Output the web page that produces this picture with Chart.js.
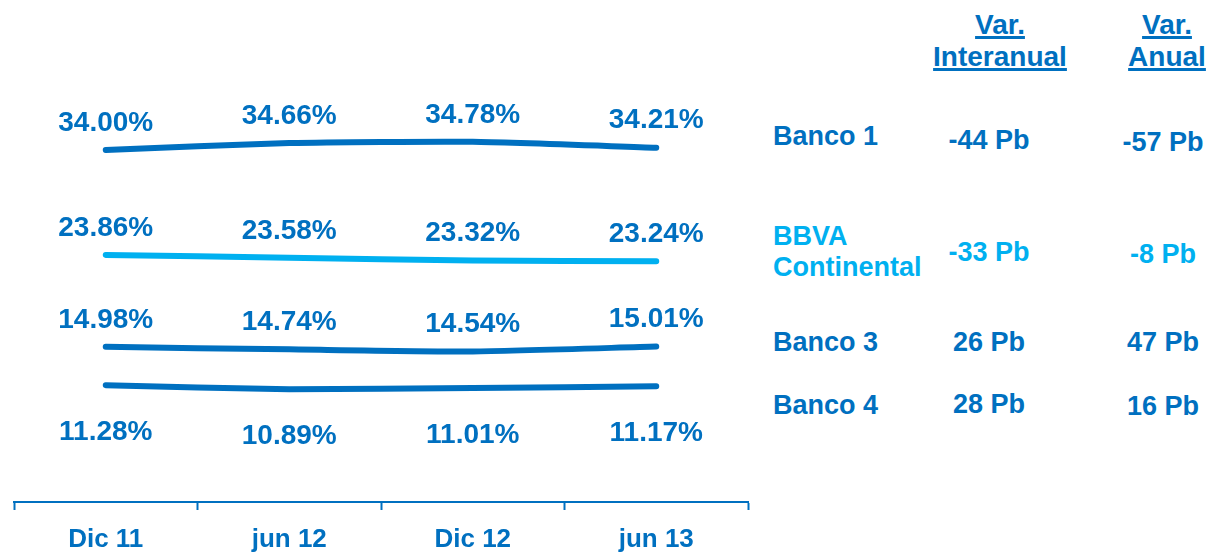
<!DOCTYPE html>
<html>
<head>
<meta charset="utf-8">
<script src="https://cdn.jsdelivr.net/npm/chart.js@4/dist/chart.umd.min.js"></script>
<style>
  body { margin: 0; background: #fff; font-family: "Liberation Sans", Arial, sans-serif; }
  #wrap { position: relative; width: 1209px; height: 552px; overflow: hidden; }
  #chartBox { position: absolute; left: 0; top: 0; width: 760px; height: 552px; }
  .t { position: absolute; font-weight: bold; white-space: nowrap; transform: translate(-50%, -50%); color: #0070C0; }
  .name { position: absolute; font-weight: bold; font-size: 27px; line-height: 31px; transform: translateY(-50%); color: #0070C0; }
  .hdr { font-size: 28px; line-height: 32px; text-decoration: underline; text-decoration-thickness: 3px; text-underline-offset: 2px; text-align: center; }
  .val { font-size: 27px; }
</style>
</head>
<body>
<div id="wrap">
  <div id="chartBox"><canvas id="myChart"></canvas></div>
  <div id="table"></div>
</div>
<script>
// categories (x axis)
const labels = ["Dic 11", "jun 12", "Dic 12", "jun 13"];

// series values (%)
const banco1 = [34.00, 34.66, 34.78, 34.21];
const bbva = [23.86, 23.58, 23.32, 23.24];
const banco3 = [14.98, 14.74, 14.54, 15.01];
const banco4 = [11.28, 10.89, 11.01, 11.17];

// right hand table
const bankNames = ["Banco 1", "BBVA\nContinental", "Banco 3", "Banco 4"];
const varInteranual = ["-44 Pb", "-33 Pb", "26 Pb", "28 Pb"];
const varAnual = ["-57 Pb", "-8 Pb", "47 Pb", "16 Pb"];

const darkBlue = "#0070C0";
const lightBlue = "#00B0F0";

// value labels drawn next to each point
const pointLabels = {
  id: "pointLabels",
  afterDatasetsDraw(chart) {
    const ctx = chart.ctx;
    ctx.save();
    ctx.font = "bold 28px 'Liberation Sans', Arial, sans-serif";
    ctx.fillStyle = darkBlue;
    ctx.textAlign = "center";
    ctx.textBaseline = "middle";
    chart.data.datasets.forEach((ds, i) => {
      const meta = chart.getDatasetMeta(i);
      meta.data.forEach((pt, j) => {
        ctx.fillText(ds.data[j].toFixed(2) + "%", pt.x, pt.y + ds.labelOffset);
      });
    });
    ctx.restore();
  },
};

function line(label, data, color, labelOffset) {
  return {
    label,
    data,
    borderColor: color,
    backgroundColor: color,
    borderWidth: 6,
    borderCapStyle: "round",
    tension: 0.2,
    pointRadius: 0,
    labelOffset,
  };
}

const data = {
  labels,
  datasets: [
    line("Banco 1", banco1, darkBlue, -27),
    line("BBVA Continental", bbva, lightBlue, -27),
    line("Banco 3", banco3, darkBlue, -27),
    line("Banco 4", banco4, darkBlue, 47),
  ],
};

const config = {
  type: "line",
  data,
  plugins: [pointLabels],
  options: {
    responsive: false,
    animation: false,
    layout: { padding: { left: 14, right: 12, top: 36, bottom: 0 } },
    plugins: { legend: { display: false }, tooltip: { enabled: false } },
    scales: {
      y: { display: false, min: 0, max: 45 },
      x: {
        offset: true,
        afterFit: (scale) => { scale.height = 50; },
        grid: { offset: true, drawOnChartArea: false, drawTicks: true, tickLength: 8, tickWidth: 2, color: darkBlue },
        border: { display: true, color: darkBlue, width: 2 },
        ticks: {
          color: darkBlue,
          padding: 14,
          font: { family: "'Liberation Sans', Arial, sans-serif", size: 26, weight: "bold" },
        },
      },
    },
  },
};

const canvas = document.getElementById("myChart");
canvas.width = 760;
canvas.height = 552;
let myChart = new Chart(canvas, config);

// build the table on the right
const table = document.getElementById("table");
function addText(cls, text, x, y, color) {
  const el = document.createElement("div");
  el.className = cls;
  el.innerHTML = text.replace("\n", "<br>");
  el.style.left = x + "px";
  el.style.top = y + "px";
  if (color) el.style.color = color;
  table.appendChild(el);
}
addText("t hdr", "Var.<br>Interanual", 1000, 41);
addText("t hdr", "Var.<br>Anual", 1167, 41);

const rowY = [136, 252, 342, 405];
const valY1 = [140, 252, 342, 404];
const valY2 = [142, 254, 342, 406];
for (let i = 0; i < bankNames.length; i++) {
  const color = i === 1 ? lightBlue : darkBlue;
  addText("name", bankNames[i], 773, rowY[i], color);
  addText("t val", varInteranual[i], 989, valY1[i], color);
  addText("t val", varAnual[i], 1163, valY2[i], color);
}
</script>
</body>
</html>
